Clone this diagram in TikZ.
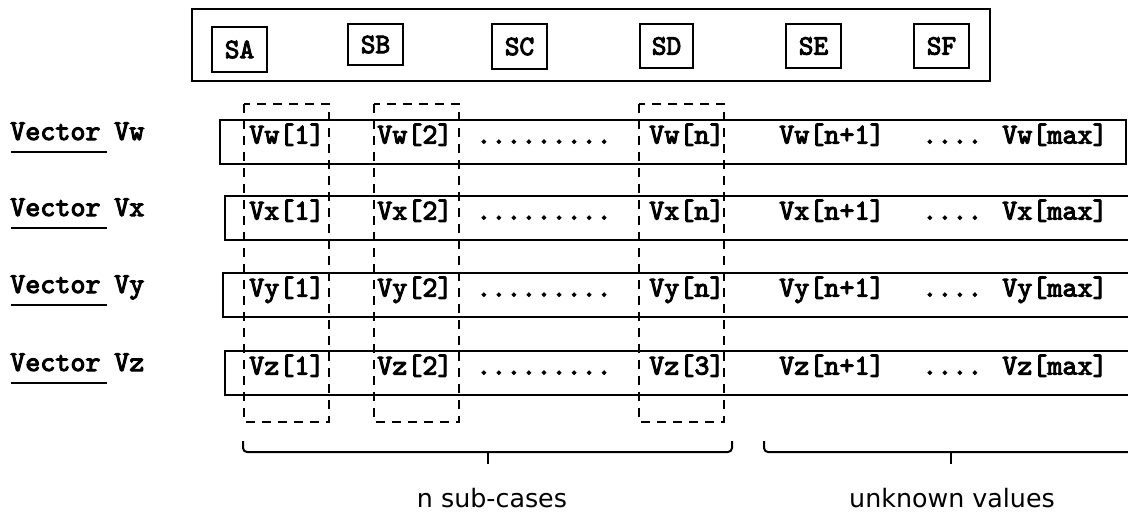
\documentclass[tikz,border=0pt]{standalone}
\usepackage{fontspec}
\setmainfont{DejaVu Sans}
\newfontfamily\codefont{lmmono10-regular.otf}[FakeBold=3.5]
\tikzset{
  frame/.style={line width=1.5pt},
  cell/.style={font=\codefont\fontsize{21.5}{22}\selectfont, inner sep=0pt, anchor=base west},
  lbl/.style={font=\codefont\fontsize{21.5}{23}\selectfont, inner sep=0pt, anchor=base west},
  sbox/.style={draw, line width=1.5pt, minimum width=41.25pt, minimum height=33.75pt, inner sep=0pt,
    font=\codefont\fontsize{21}{22}\selectfont},
  dashcol/.style={line width=1.5pt, dash pattern=on 6.75pt off 5.25pt},
  brace/.style={line width=1.5pt, rounded corners=3pt},
  note/.style={font=\fontsize{19}{22}\selectfont, inner sep=0pt, anchor=base}
}
\begin{document}
\begin{tikzpicture}[x=0.75pt,y=-0.75pt]
\useasboundingbox (0,0) rectangle (1128,515);
\clip (0,0) rectangle (1128,515);

% selector strip
\draw[frame] (192,9) rectangle (990,81);
\node[sbox] (sa) at (239.5,49.5) {SA};
\node[sbox, minimum height=30.75pt] (sb) at (375.5,44.5) {SB};
\node[sbox] (sc) at (519.5,46.5) {SC};
\node[sbox, minimum width=39.75pt, minimum height=33pt] (sd) at (666.5,46) {SD};
\node[sbox, minimum height=33pt] (se) at (813.5,46) {SE};
\node[sbox, minimum height=33pt] (sf) at (941.5,46) {SF};

% vectors
\foreach \r/\t/\l/\rr/\k in {w/120/220/1126/n, x/196/225/1134/n, y/273/223/1134/n, z/351/225/1134/3}{
  \draw[frame] (\l,\t) rectangle (\rr,{\t+44});
  \node[lbl] (vec\r) at (10,{\t+20}) {Vector};
  \node[lbl] (name\r) at (114,{\t+20}) {V\r};
  \draw[line width=1.5pt] (11,{\t+32}) -- (107,{\t+32});
  \node[cell] (a\r) at (249,{\t+23.5}) {V\r[1]};
  \node[cell] (b\r) at (377,{\t+23.5}) {V\r[2]};
  \node[cell] (d\r) at (476,{\t+23.5}) {.........};
  \node[cell] (n\r) at (649,{\t+23.5}) {V\r[\k]};
  \node[cell] (p\r) at (779,{\t+23.5}) {V\r[n+1]};
  \node[cell] (e\r) at (922,{\t+23.5}) {....};
  \node[cell] (m\r) at (1002,{\t+23.5}) {V\r[max]};
}

% selected columns
\draw[dashcol] (244,104) rectangle (329,422);
\draw[dashcol] (374,104) rectangle (459,422);
\draw[dashcol] (639,104) rectangle (724,422);

% braces
\coordinate (b1m) at (487.5,452);
\coordinate (b1t) at (487.5,464);
\coordinate (b2m) at (951,452);
\coordinate (b2t) at (951,464);
\draw[brace] (243,441) -- (243,452) -- (732,452) -- (732,441);
\draw[line width=1.5pt] (b1m) -- (b1t);
\draw[brace] (764,441) -- (764,452) -- (1138,452) -- (1138,441);
\draw[line width=1.5pt] (b2m) -- (b2t);

\node[note] (nsub) at (492,507) {n sub-cases};
\node[note] (unk) at (952,507) {unknown values};
\end{tikzpicture}
\end{document}
